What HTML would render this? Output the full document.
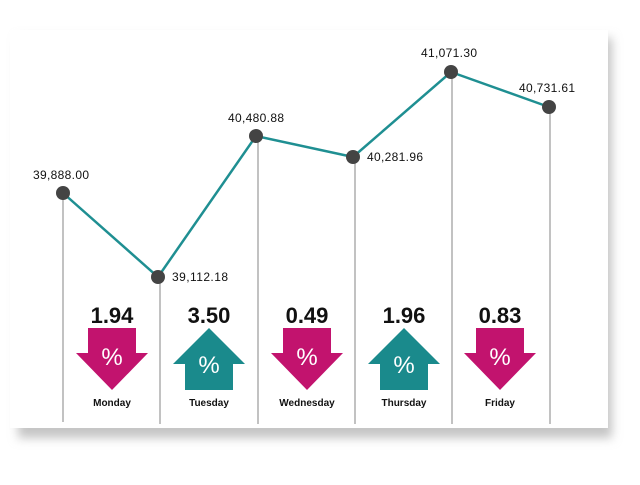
<!DOCTYPE html><html><head><style>body{margin:0;background:#fff;width:640px;height:480px;overflow:hidden;font-family:"Liberation Sans",sans-serif}</style></head><body>
<svg width="640" height="480" viewBox="0 0 640 480" xmlns="http://www.w3.org/2000/svg">
<defs><filter id="b" x="-10%" y="-10%" width="120%" height="130%"><feGaussianBlur stdDeviation="5"/></filter></defs>
<rect x="18" y="38" width="594" height="400" fill="#c4c4c4" filter="url(#b)"/>
<rect x="10" y="30" width="598" height="398" fill="#fff"/>
<g stroke="#999" stroke-width="1.2">
<line x1="63" y1="193" x2="63" y2="422"/><line x1="160" y1="277" x2="160" y2="424"/><line x1="258" y1="136" x2="258" y2="424"/><line x1="355" y1="157" x2="355" y2="424"/><line x1="452" y1="72" x2="452" y2="424"/><line x1="550" y1="108" x2="550" y2="424"/>
</g>
<polyline points="63,193 158,277 256,136 353,157 451,72 549,107" fill="none" stroke="#1f8f92" stroke-width="2.5"/>
<g fill="#444"><circle cx="63" cy="193" r="7"/><circle cx="158" cy="277" r="7"/><circle cx="256" cy="136" r="7"/><circle cx="353" cy="157" r="7"/><circle cx="451" cy="72" r="7"/><circle cx="549" cy="107" r="7"/></g>
<g font-size="12" fill="#111">
<text x="33" y="179" textLength="56">39,888.00</text><text x="172" y="281" textLength="56">39,112.18</text><text x="228" y="122" textLength="56">40,480.88</text><text x="367" y="161" textLength="56">40,281.96</text><text x="421" y="57" textLength="56">41,071.30</text><text x="519" y="92" textLength="56">40,731.61</text>
</g>
<g font-size="22" font-weight="bold" text-anchor="middle" fill="#111">
<text x="112" y="323">1.94</text><text x="209" y="323">3.50</text><text x="307" y="323">0.49</text><text x="404" y="323">1.96</text><text x="500" y="323">0.83</text>
</g>
<g fill="#c2136e"><path d="M88,328H136V353H148L112,390L76,353H88Z"/><path d="M283,328H331V353H343L307,390L271,353H283Z"/><path d="M476,328H524V353H536L500,390L464,353H476Z"/></g>
<g fill="#1a8a8c"><path d="M209,328L245,364H233V390H185V364H173Z"/><path d="M404,328L440,364H428V390H380V364H368Z"/></g>
<g font-size="24" fill="#fff" text-anchor="middle"><text x="112" y="365">%</text><text x="209" y="373">%</text><text x="307" y="365">%</text><text x="404" y="373">%</text><text x="500" y="365">%</text></g>
<g font-size="10" font-weight="bold" text-anchor="middle" fill="#111">
<text x="112" y="406">Monday</text><text x="209" y="406">Tuesday</text><text x="307" y="406">Wednesday</text><text x="404" y="406">Thursday</text><text x="500" y="406">Friday</text>
</g>
</svg></body></html>
